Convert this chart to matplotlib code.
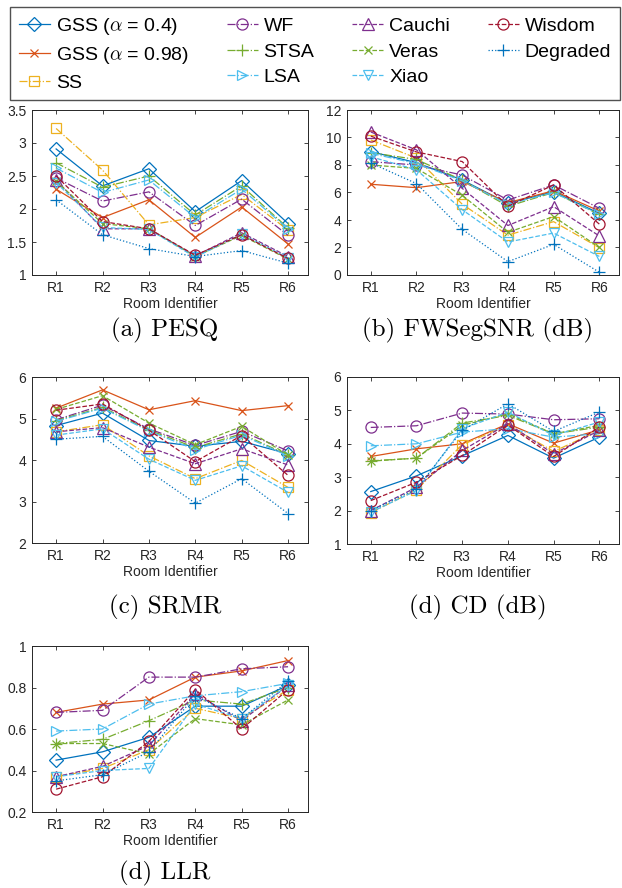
import numpy as np
import matplotlib
matplotlib.use("Agg")
from matplotlib import pyplot as plt

plt.rcParams['font.family'] = ['Liberation Sans', 'DejaVu Sans']
plt.rcParams['mathtext.fontset'] = 'cm'

rooms = ['R1', 'R2', 'R3', 'R4', 'R5', 'R6']
methods = ['GSS ($\\alpha$ = 0.4)', 'GSS ($\\alpha$ = 0.98)', 'SS', 'WF', 'STSA', 'LSA',
           'Cauchi', 'Veras', 'Xiao', 'Wisdom', 'Degraded']

# one row per method, one column per room
pesq = [
    [2.91, 2.35, 2.61, 1.96, 2.43, 1.78],
    [2.30, 1.87, 2.14, 1.57, 2.03, 1.47],
    [3.22, 2.59, 1.76, 1.87, 2.22, 1.68],
    [2.47, 2.12, 2.26, 1.75, 2.15, 1.60],
    [2.70, 2.33, 2.50, 1.91, 2.35, 1.71],
    [2.62, 2.25, 2.44, 1.87, 2.30, 1.70],
    [2.44, 1.70, 1.70, 1.29, 1.64, 1.28],
    [2.42, 1.78, 1.70, 1.28, 1.60, 1.24],
    [2.40, 1.72, 1.69, 1.27, 1.62, 1.26],
    [2.50, 1.81, 1.70, 1.30, 1.61, 1.25],
    [2.14, 1.61, 1.40, 1.28, 1.37, 1.18],
]
fwsegsnr = [
    [8.97, 8.17, 6.91, 5.21, 6.06, 4.48],
    [6.60, 6.35, 6.80, 5.26, 6.13, 4.65],
    [9.82, 8.50, 5.15, 2.90, 3.88, 1.99],
    [8.24, 8.00, 7.27, 5.45, 6.55, 4.85],
    [8.90, 8.40, 6.90, 5.00, 6.00, 4.40],
    [8.85, 8.10, 6.85, 5.15, 6.00, 4.40],
    [10.40, 9.10, 6.30, 3.60, 4.97, 2.84],
    [8.00, 7.75, 5.80, 3.10, 4.25, 2.00],
    [8.60, 7.65, 4.75, 2.40, 3.05, 1.35],
    [10.10, 8.95, 8.25, 5.00, 6.55, 3.70],
    [8.15, 6.65, 3.32, 0.97, 2.23, 0.20],
]
srmr = [
    [4.83, 5.13, 4.47, 4.33, 4.45, 4.15],
    [5.25, 5.69, 5.21, 5.43, 5.19, 5.31],
    [4.68, 4.85, 4.10, 3.55, 3.99, 3.34],
    [4.97, 5.32, 4.75, 4.35, 4.69, 4.22],
    [4.95, 5.27, 4.72, 4.30, 4.63, 4.12],
    [4.93, 5.25, 4.70, 4.25, 4.60, 4.10],
    [4.68, 4.78, 4.31, 3.91, 4.27, 3.88],
    [5.22, 5.55, 4.89, 4.37, 4.81, 4.12],
    [4.60, 4.75, 4.02, 3.51, 3.86, 3.22],
    [5.20, 5.35, 4.72, 3.96, 4.59, 3.63],
    [4.50, 4.57, 3.73, 2.96, 3.55, 2.71],
]
cd = [
    [2.57, 3.04, 3.64, 4.25, 3.57, 4.20],
    [3.62, 3.85, 4.00, 4.60, 4.02, 4.42],
    [1.94, 2.62, 3.97, 4.56, 3.77, 4.40],
    [4.49, 4.54, 4.92, 4.89, 4.72, 4.75],
    [3.49, 3.57, 4.62, 4.85, 4.30, 4.50],
    [3.94, 4.00, 4.35, 4.45, 4.20, 4.30],
    [2.00, 2.70, 3.80, 4.60, 3.70, 4.40],
    [3.48, 3.57, 4.55, 4.90, 4.30, 4.55],
    [1.95, 2.60, 4.45, 4.95, 4.25, 4.65],
    [2.30, 2.85, 3.65, 4.56, 3.62, 4.50],
    [2.00, 2.65, 4.40, 5.20, 4.37, 4.95],
]
llr = [
    [0.45, 0.49, 0.56, 0.71, 0.71, 0.81],
    [0.68, 0.72, 0.74, 0.85, 0.88, 0.93],
    [0.37, 0.41, 0.50, 0.70, 0.65, 0.79],
    [0.68, 0.69, 0.85, 0.85, 0.89, 0.90],
    [0.53, 0.55, 0.64, 0.74, 0.72, 0.80],
    [0.59, 0.60, 0.72, 0.76, 0.78, 0.82],
    [0.37, 0.42, 0.52, 0.77, 0.64, 0.81],
    [0.53, 0.53, 0.48, 0.65, 0.62, 0.74],
    [0.37, 0.40, 0.41, 0.72, 0.65, 0.81],
    [0.31, 0.37, 0.54, 0.79, 0.60, 0.79],
    [0.35, 0.38, 0.49, 0.76, 0.65, 0.83],
]

colors = ['#0072BD', '#D95319', '#EDB120', '#7E2F8E', '#77AC30', '#4DBEEE',
          '#7E2F8E', '#77AC30', '#4DBEEE', '#A2142F', '#0072BD']
markers = ['D', 'x', 's', 'o', '+', '>', '^', 'x', 'v', 'o', '+']
styles = ['-', '-', '-.', '-.', '-.', '-.', '--', '--', '--', '--', ':']
msizes = [7, 6, 7, 8, 8, 7, 8, 6, 7, 8, 8]

panels = [
    (pesq, [1, 3.5], [1, 1.5, 2, 2.5, 3, 3.5], ['1', '1.5', '2', '2.5', '3', '3.5'],
     [32, 275, 276, 165], '(a) PESQ', 330),
    (fwsegsnr, [0, 12], [0, 2, 4, 6, 8, 10, 12], ['0', '2', '4', '6', '8', '10', '12'],
     [347, 275, 272, 165], '(b) FWSegSNR (dB)', 330),
    (srmr, [2, 6], [2, 3, 4, 5, 6], ['2', '3', '4', '5', '6'],
     [32, 543, 276, 166], '(c) SRMR', 607),
    (cd, [1, 6], [1, 2, 3, 4, 5, 6], ['1', '2', '3', '4', '5', '6'],
     [347, 544, 272, 167], '(d) CD (dB)', 607),
    (llr, [0.2, 1], [0.2, 0.4, 0.6, 0.8, 1.0], ['0.2', '0.4', '0.6', '0.8', '1'],
     [32, 812, 276, 166], '(d) LLR', 873),
]

W, H = 622, 888
fig = plt.figure(figsize=(W / 100, H / 100), dpi=100)
x = np.arange(1, 7)
handles = []
for vals, ylim, yt, ytl, box, caption, cap_y in panels:
    left, bottom, w, h = box
    ax = fig.add_axes([left / W, 1 - bottom / H, w / W, h / H])
    for i in range(len(methods)):
        ln, = ax.plot(x, vals[i], linestyle=styles[i], color=colors[i], marker=markers[i],
                      markersize=msizes[i], markerfacecolor='none', markeredgewidth=0.9,
                      linewidth=0.9, label=methods[i])
        if len(handles) < len(methods):
            handles.append(ln)
    ax.set_xlim(0.48, 6.43)
    ax.set_ylim(ylim)
    ax.set_xticks(x)
    ax.set_xticklabels(rooms)
    ax.set_yticks(yt)
    ax.set_yticklabels(ytl)
    ax.tick_params(direction='in', top=True, right=True, labelsize=10, length=3,
                   width=0.6, colors='#262626', pad=4)
    for s in ax.spines.values():
        s.set_color('#262626')
        s.set_linewidth(0.7)
    ax.set_xlabel('Room Identifier', fontsize=10, color='#262626', labelpad=2)
    fig.text((left + w / 2 - 5) / W, 1 - cap_y / H, caption, ha='center', va='center',
             fontsize=18, family='cmr10')

# legend box spans roughly x 10..620, y 7..99 px
leg = fig.legend(handles=handles, labels=methods, ncol=4, loc='upper left',
                 bbox_to_anchor=(10 / W, 1 - 7 / H, 610 / W, 0.0), mode='expand',
                 fontsize=14, frameon=True, fancybox=False, edgecolor='#262626',
                 handlelength=1.6, handletextpad=0.3, columnspacing=1.0,
                 labelspacing=0.42, borderpad=0.45, borderaxespad=0)
leg.get_frame().set_linewidth(1.0)

fig.savefig('out.png', dpi=100)
